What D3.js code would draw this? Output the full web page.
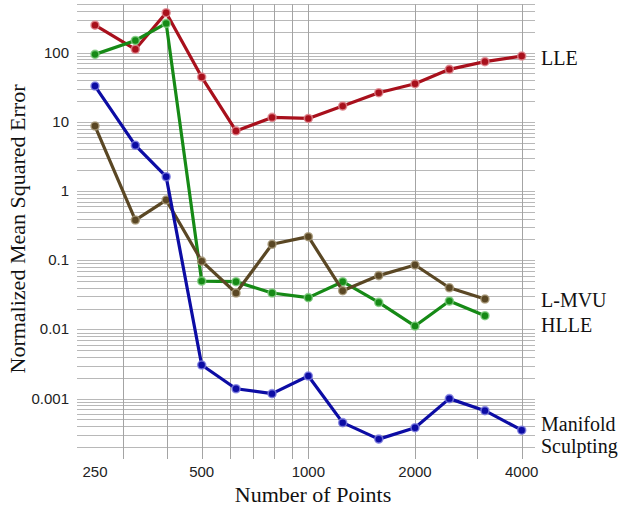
<!DOCTYPE html>
<html>
<head>
<meta charset="utf-8">
<script src="https://cdn.jsdelivr.net/npm/d3@7"></script>
<style>
  body { margin: 0; background: #fff; }
  .tick-label { font-family: "Liberation Sans", Arial, sans-serif; font-size: 15px; fill: #222; }
  .title { font-family: "Liberation Serif", "Times New Roman", serif; font-size: 22px; fill: #111; }
  .series-label { font-family: "Liberation Serif", "Times New Roman", serif; font-size: 20px; fill: #111; }
</style>
</head>
<body>
<div id="chart"></div>
<script>
// number of points (x values)
var numPoints = [250, 325, 397, 500, 625, 790, 1000, 1250, 1580, 2000, 2500, 3150, 4000];
// normalized mean squared error per algorithm
var lleValues = [250, 112, 378, 44.4, 7.4, 11.6, 11.2, 16.9, 26.4, 35.6, 57.4, 74.1, 89.3];
var hlleValues = [94.5, 150, 265, 0.050, 0.049, 0.0336, 0.0288, 0.049, 0.0246, 0.0112, 0.0257, 0.0158];
var lmvuValues = [8.7, 0.381, 0.741, 0.097, 0.0336, 0.17, 0.219, 0.0363, 0.060, 0.0853, 0.040, 0.0275];
var msValues = [32.9, 4.58, 1.61, 0.00306, 0.00139, 0.00118, 0.00212, 0.00045, 0.00026, 0.00038, 0.0010, 0.00067, 0.00035];
// tick labels and grid
var xTickLabels = [250, 500, 1000, 2000, 4000];
var xGridValues = [300, 400, 500, 600, 700, 800, 900, 1000, 2000, 3000, 4000];
var yTickLabels = [100, 10, 1, 0.1, 0.01, 0.001];

//set svg dimensions
var svgWidth = 623;
var svgHeight = 509;
//plot area
var plotLeft = 77, plotRight = 535, plotTop = 4.3, plotBottom = 447;

var svg = d3.select("#chart").append("svg")
    .attr("width", svgWidth)
    .attr("height", svgHeight);

svg.append("rect").attr("width", svgWidth).attr("height", svgHeight).attr("fill", "#fff");

//scales
var xScale = d3.scaleLog().domain([250, 4000]).range([95, 521.7]);
var yScale = d3.scaleLog().domain([0.0002, 500]).range([plotBottom, plotTop]);

//horizontal grid lines
var gridG = svg.append("g");
gridG.selectAll(".hgrid")
    .data(yScale.ticks())
    .enter()
    .append("line")
    .attr("x1", plotLeft)
    .attr("x2", plotRight)
    .attr("y1", d => Math.round(yScale(d)) + 0.5)
    .attr("y2", d => Math.round(yScale(d)) + 0.5)
    .attr("stroke", "#b8b8b8")
    .attr("stroke-width", 1);

//vertical grid lines
gridG.selectAll(".vgrid")
    .data(xGridValues)
    .enter()
    .append("line")
    .attr("x1", d => Math.round(xScale(d)) + 0.5)
    .attr("x2", d => Math.round(xScale(d)) + 0.5)
    .attr("y1", plotTop)
    .attr("y2", 459)
    .attr("stroke", "#a4a4a4")
    .attr("stroke-width", 1);

//tick labels
svg.selectAll(".xlab")
    .data(xTickLabels)
    .enter()
    .append("text")
    .attr("class", "tick-label")
    .attr("x", d => xScale(d))
    .attr("y", 477)
    .attr("text-anchor", "middle")
    .text(d => d);

svg.selectAll(".ylab")
    .data(yTickLabels)
    .enter()
    .append("text")
    .attr("class", "tick-label")
    .attr("x", 69)
    .attr("y", d => yScale(d) + 5)
    .attr("text-anchor", "end")
    .text(d => d);

//axis titles
svg.append("text")
    .attr("class", "title")
    .attr("x", 313)
    .attr("y", 502)
    .attr("text-anchor", "middle")
    .text("Number of Points");

svg.append("text")
    .attr("class", "title")
    .attr("transform", "translate(25, 229) rotate(-90)")
    .attr("text-anchor", "middle")
    .text("Normalized Mean Squared Error");

//series
var series = [
    { name: "LLE", values: lleValues, color: "#a8101c", halo: "#e08890" },
    { name: "HLLE", values: hlleValues, color: "#168a16", halo: "#80cc80" },
    { name: "L-MVU", values: lmvuValues, color: "#5a4724", halo: "#a89878" },
    { name: "Manifold Sculpting", values: msValues, color: "#0c0ca4", halo: "#8080e0" }
];

var line = d3.line()
    .x(d => xScale(d.x))
    .y(d => yScale(d.y));

series.forEach(function (s) {
    var pts = s.values.map((v, i) => ({ x: numPoints[i], y: v }));
    var g = svg.append("g");
    g.append("path")
        .datum(pts)
        .attr("d", line)
        .attr("fill", "none")
        .attr("stroke", s.color)
        .attr("stroke-width", 3.2)
        .attr("stroke-linejoin", "round");
    g.selectAll("circle")
        .data(pts)
        .enter()
        .append("circle")
        .attr("cx", d => xScale(d.x))
        .attr("cy", d => yScale(d.y))
        .attr("r", 4)
        .attr("fill", s.color)
        .attr("stroke", s.halo)
        .attr("stroke-opacity", 0.8)
        .attr("stroke-width", 1.6);
});

//series labels on the right
var seriesLabels = [
    { text: "LLE", y: 65 },
    { text: "L-MVU", y: 306.7 },
    { text: "HLLE", y: 331.7 },
    { text: "Manifold", y: 430.5 },
    { text: "Sculpting", y: 453 }
];
svg.selectAll(".slab")
    .data(seriesLabels)
    .enter()
    .append("text")
    .attr("class", "series-label")
    .attr("x", 541)
    .attr("y", d => d.y)
    .text(d => d.text);
</script>
</body>
</html>
